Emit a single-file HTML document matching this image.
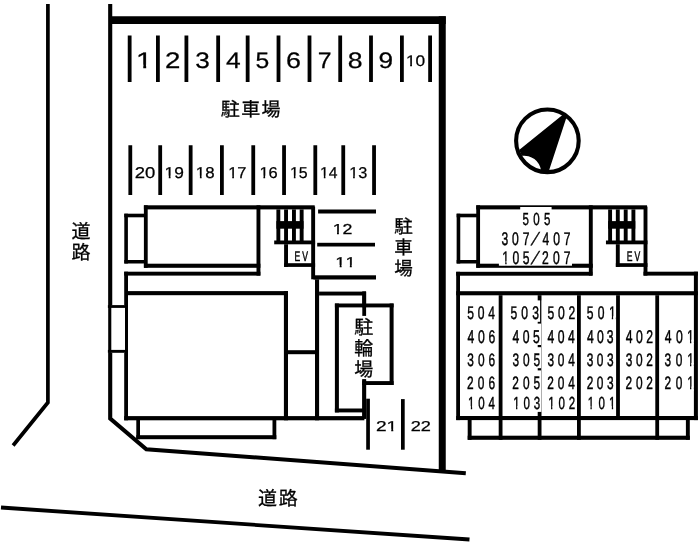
<!DOCTYPE html>
<html lang="ja">
<head>
<meta charset="utf-8">
<title>配置図 駐車場 駐輪場</title>
<style>
html,body{margin:0;padding:0;background:#fff;}
body{width:700px;height:548px;overflow:hidden;font-family:"Liberation Sans",sans-serif;}
svg{display:block;position:absolute;left:0;top:0;will-change:transform;}
text{font-family:"Liberation Sans",sans-serif;fill:#000;text-rendering:geometricPrecision;font-kerning:none;font-variant-ligatures:none;}
text.n{stroke:#000;stroke-width:0.25px;}
text.u{stroke:#000;stroke-width:0.45px;}
text.j{font-family:"Liberation Sans","Noto Sans CJK JP",sans-serif;stroke:#000;stroke-width:0.3px;}
</style>
</head>
<body>
<svg width="700" height="548" viewBox="0 0 700 548" shape-rendering="geometricPrecision">
<rect x="0" y="0" width="700" height="548" fill="#fff"/>
<polyline points="47.90,4.00 47.90,402.50 13.10,445.50" fill="none" stroke="#000" stroke-width="3.70" stroke-linejoin="miter" stroke-linecap="butt"/>
<polyline points="1.00,507.50 469.50,539.50" fill="none" stroke="#000" stroke-width="3.80" stroke-linejoin="miter" stroke-linecap="butt"/>
<polyline points="110.20,4.00 110.20,418.60 146.30,449.20 465.80,473.20" fill="none" stroke="#000" stroke-width="4.10" stroke-linejoin="miter" stroke-linecap="butt"/>
<rect x="110.10" y="16.25" width="335.65" height="7.75"/>
<rect x="438.75" y="16.25" width="7.00" height="455.05"/>
<rect x="127.75" y="35.50" width="3.80" height="46.50"/>
<rect x="156.00" y="35.50" width="3.80" height="46.50"/>
<rect x="184.50" y="35.50" width="3.80" height="46.50"/>
<rect x="216.25" y="35.50" width="3.80" height="46.50"/>
<rect x="245.75" y="35.50" width="3.80" height="46.50"/>
<rect x="276.60" y="35.50" width="3.80" height="46.50"/>
<rect x="307.60" y="35.50" width="3.80" height="46.50"/>
<rect x="338.30" y="35.50" width="3.80" height="46.50"/>
<rect x="369.10" y="35.50" width="3.80" height="46.50"/>
<rect x="400.00" y="35.50" width="3.80" height="46.50"/>
<rect x="428.20" y="35.50" width="3.80" height="46.50"/>
<rect x="128.40" y="145.25" width="3.80" height="49.75"/>
<rect x="158.30" y="145.25" width="3.80" height="49.75"/>
<rect x="188.75" y="145.25" width="3.80" height="49.75"/>
<rect x="220.00" y="145.25" width="3.80" height="49.75"/>
<rect x="251.35" y="145.25" width="3.80" height="49.75"/>
<rect x="282.15" y="145.25" width="3.80" height="49.75"/>
<rect x="313.40" y="145.25" width="3.80" height="49.75"/>
<rect x="341.35" y="145.25" width="3.80" height="49.75"/>
<rect x="372.15" y="145.25" width="3.80" height="49.75"/>
<rect x="318.10" y="209.50" width="57.90" height="4.00"/>
<rect x="317.20" y="242.80" width="57.80" height="3.70"/>
<rect x="313.40" y="275.30" width="62.60" height="4.20"/>
<rect x="366.20" y="398.70" width="3.70" height="51.00"/>
<rect x="401.00" y="399.10" width="3.70" height="50.60"/>
<rect x="124.30" y="213.70" width="21.70" height="3.60"/>
<rect x="124.30" y="260.00" width="21.70" height="3.50"/>
<rect x="124.30" y="213.70" width="3.60" height="49.80"/>
<rect x="143.90" y="205.30" width="170.80" height="4.10"/>
<rect x="143.90" y="205.30" width="3.80" height="62.50"/>
<rect x="143.90" y="263.70" width="116.50" height="4.10"/>
<rect x="256.50" y="205.30" width="3.90" height="70.30"/>
<rect x="311.20" y="206.60" width="3.90" height="72.70"/>
<rect x="276.40" y="209.40" width="3.90" height="31.60"/>
<rect x="284.10" y="209.40" width="3.90" height="31.60"/>
<rect x="292.00" y="209.40" width="3.90" height="31.60"/>
<rect x="299.70" y="209.40" width="3.90" height="31.60"/>
<rect x="276.40" y="221.10" width="27.10" height="7.60"/>
<rect x="274.20" y="240.50" width="40.90" height="3.80"/>
<rect x="284.10" y="244.20" width="3.90" height="22.70"/>
<rect x="284.10" y="263.20" width="31.00" height="3.70"/>
<text class="u" transform="translate(294.49 261.20) scale(0.6200 1)" font-size="13.89" letter-spacing="3.31">EV</text>
<rect x="124.20" y="271.70" width="136.20" height="3.90"/>
<rect x="124.20" y="271.70" width="3.80" height="148.60"/>
<rect x="128.00" y="291.10" width="160.00" height="4.10"/>
<rect x="283.90" y="291.10" width="4.10" height="129.20"/>
<rect x="124.20" y="416.10" width="240.20" height="4.20"/>
<rect x="288.00" y="350.20" width="27.20" height="4.00"/>
<rect x="315.00" y="279.30" width="4.10" height="141.00"/>
<rect x="319.10" y="291.60" width="46.90" height="3.90"/>
<rect x="362.30" y="291.60" width="3.80" height="127.20"/>
<rect x="136.30" y="420.00" width="3.70" height="19.20"/>
<rect x="136.30" y="435.20" width="140.00" height="4.00"/>
<rect x="272.50" y="420.00" width="3.80" height="19.20"/>
<rect x="108.00" y="305.10" width="17.00" height="47.70" fill="#fff"/>
<rect x="107.90" y="305.10" width="17.10" height="2.80"/>
<rect x="107.90" y="349.90" width="17.10" height="2.90"/>
<rect x="108.20" y="305.10" width="3.10" height="47.70"/>
<rect x="338.90" y="307.30" width="50.70" height="72.00" fill="#fff"/>
<rect x="334.90" y="303.50" width="58.70" height="3.90"/>
<rect x="334.90" y="303.50" width="4.00" height="108.90"/>
<rect x="389.60" y="303.50" width="4.00" height="81.50"/>
<rect x="362.30" y="381.10" width="31.30" height="3.90"/>
<rect x="334.90" y="408.50" width="31.20" height="3.90"/>
<rect x="362.30" y="291.60" width="3.80" height="24.30"/>
<rect x="362.30" y="379.30" width="3.80" height="39.50"/>
<rect x="456.65" y="213.70" width="21.70" height="3.60"/>
<rect x="456.65" y="260.00" width="21.70" height="3.50"/>
<rect x="456.65" y="213.70" width="3.60" height="49.80"/>
<rect x="476.25" y="205.30" width="170.80" height="4.10"/>
<rect x="476.25" y="205.30" width="3.80" height="62.50"/>
<rect x="476.25" y="263.70" width="116.50" height="4.10"/>
<rect x="588.85" y="205.30" width="3.90" height="70.30"/>
<rect x="643.55" y="206.60" width="3.90" height="69.00"/>
<rect x="608.15" y="209.40" width="3.90" height="31.60"/>
<rect x="615.85" y="209.40" width="3.90" height="31.60"/>
<rect x="623.75" y="209.40" width="3.90" height="31.60"/>
<rect x="631.45" y="209.40" width="3.90" height="31.60"/>
<rect x="608.15" y="221.10" width="27.10" height="7.60"/>
<rect x="605.95" y="240.50" width="41.50" height="3.80"/>
<rect x="615.85" y="244.20" width="3.90" height="22.70"/>
<rect x="615.85" y="263.20" width="31.60" height="3.70"/>
<text class="u" transform="translate(626.69 261.20) scale(0.6200 1)" font-size="13.89" letter-spacing="3.48">EV</text>
<rect x="456.20" y="271.80" width="136.20" height="3.90"/>
<rect x="643.50" y="271.70" width="54.40" height="3.90"/>
<rect x="456.20" y="271.80" width="3.80" height="148.30"/>
<rect x="693.90" y="271.70" width="4.00" height="148.40"/>
<rect x="456.20" y="291.20" width="241.70" height="4.10"/>
<rect x="456.20" y="416.00" width="241.70" height="4.10"/>
<rect x="498.70" y="295.20" width="3.80" height="120.80"/>
<rect x="537.70" y="295.20" width="3.80" height="120.80"/>
<rect x="577.00" y="295.20" width="3.80" height="120.80"/>
<rect x="616.10" y="295.20" width="3.80" height="120.80"/>
<rect x="655.30" y="295.20" width="3.80" height="120.80"/>
<rect x="467.70" y="420.00" width="3.90" height="19.80"/>
<rect x="685.90" y="420.00" width="3.90" height="19.80"/>
<rect x="467.70" y="435.70" width="222.10" height="4.10"/>
<rect x="498.70" y="420.00" width="3.80" height="19.80"/>
<rect x="537.70" y="420.00" width="3.80" height="19.80"/>
<rect x="577.00" y="420.00" width="3.80" height="19.80"/>
<rect x="655.30" y="420.00" width="3.80" height="19.80"/>
<rect x="520.20" y="207.00" width="31.40" height="19.00" fill="#fff"/>
<rect x="498.90" y="229.00" width="73.10" height="36.70" fill="#fff"/>
<rect x="506.00" y="300.40" width="34.10" height="21.40" fill="#fff"/>
<rect x="506.00" y="323.60" width="35.10" height="21.40" fill="#fff"/>
<rect x="506.00" y="347.20" width="35.10" height="21.00" fill="#fff"/>
<rect x="506.00" y="370.40" width="35.10" height="41.50" fill="#fff"/>
<rect x="541.70" y="300.40" width="34.30" height="111.50" fill="#fff"/>
<text class="n" transform="translate(136.08 67.90) scale(1.3000 1)" font-size="22.49">1</text>
<text class="n" transform="translate(165.11 67.90) scale(1.2301 1)" font-size="22.49">2</text>
<text class="n" transform="translate(195.20 67.90) scale(1.1632 1)" font-size="22.49">3</text>
<text class="n" transform="translate(225.89 67.90) scale(1.1738 1)" font-size="22.49">4</text>
<text class="n" transform="translate(255.61 67.90) scale(1.0975 1)" font-size="22.49">5</text>
<text class="n" transform="translate(286.04 67.90) scale(1.1952 1)" font-size="22.49">6</text>
<text class="n" transform="translate(317.83 67.90) scale(1.1055 1)" font-size="22.49">7</text>
<text class="n" transform="translate(347.74 67.90) scale(1.1847 1)" font-size="22.49">8</text>
<text class="n" transform="translate(378.57 67.90) scale(1.1650 1)" font-size="22.49">9</text>
<text class="n" transform="translate(405.94 66.00) scale(1.1287 1)" font-size="15.32">10</text>
<text class="n" transform="translate(134.77 178.00) scale(1.1728 1)" font-size="15.75">20</text>
<text class="n" transform="translate(164.53 178.00) scale(1.1008 1)" font-size="15.75">19</text>
<text class="n" transform="translate(195.78 178.00) scale(1.0703 1)" font-size="15.75">18</text>
<text class="n" transform="translate(228.22 178.00) scale(1.0450 1)" font-size="15.75">17</text>
<text class="n" transform="translate(259.42 178.00) scale(1.0447 1)" font-size="15.75">16</text>
<text class="n" transform="translate(289.97 178.00) scale(1.0100 1)" font-size="15.75">15</text>
<text class="n" transform="translate(319.99 178.00) scale(0.9970 1)" font-size="15.75">14</text>
<text class="n" transform="translate(349.14 178.00) scale(1.0316 1)" font-size="15.75">13</text>
<text class="n" transform="translate(332.69 233.60) scale(1.2312 1)" font-size="14.46">12</text>
<text class="n" transform="translate(335.24 267.00) scale(1.2746 1)" font-size="14.32">11</text>
<text class="n" transform="translate(375.94 430.90) scale(1.3375 1)" font-size="14.32">21</text>
<text class="n" transform="translate(410.69 430.90) scale(1.2699 1)" font-size="14.32">22</text>
<text class="u" transform="translate(467.22 319.00) scale(0.6600 1)" font-size="18.33" letter-spacing="5.80">504</text>
<text class="u" transform="translate(467.42 342.50) scale(0.6600 1)" font-size="18.47" letter-spacing="5.66">406</text>
<text class="u" transform="translate(467.25 365.60) scale(0.6600 1)" font-size="18.05" letter-spacing="6.14">306</text>
<text class="u" transform="translate(467.10 389.30) scale(0.6600 1)" font-size="18.05" letter-spacing="6.25">206</text>
<text class="u" transform="translate(468.09 408.80) scale(0.6600 1)" font-size="17.47" letter-spacing="5.84">104</text>
<text class="u" transform="translate(510.52 319.00) scale(0.6600 1)" font-size="18.33" letter-spacing="6.23">503</text>
<text class="u" transform="translate(512.52 342.50) scale(0.6600 1)" font-size="18.47" letter-spacing="5.19">405</text>
<text class="u" transform="translate(512.45 365.60) scale(0.6600 1)" font-size="18.05" letter-spacing="5.97">305</text>
<text class="u" transform="translate(512.30 389.30) scale(0.6600 1)" font-size="18.05" letter-spacing="6.08">205</text>
<text class="u" transform="translate(513.29 408.80) scale(0.6600 1)" font-size="17.47" letter-spacing="5.81">103</text>
<text class="u" transform="translate(547.42 319.00) scale(0.6600 1)" font-size="18.33" letter-spacing="5.69">502</text>
<text class="u" transform="translate(547.62 342.50) scale(0.6600 1)" font-size="18.47" letter-spacing="5.22">404</text>
<text class="u" transform="translate(547.45 365.60) scale(0.6600 1)" font-size="18.05" letter-spacing="5.71">304</text>
<text class="u" transform="translate(547.30 389.30) scale(0.6600 1)" font-size="18.05" letter-spacing="5.82">204</text>
<text class="u" transform="translate(548.29 408.80) scale(0.6600 1)" font-size="17.47" letter-spacing="5.72">102</text>
<text class="u" transform="translate(586.82 319.00) scale(0.6600 1)" font-size="18.33" letter-spacing="6.53">501</text>
<text class="u" transform="translate(587.02 342.50) scale(0.6600 1)" font-size="18.47" letter-spacing="4.68">403</text>
<text class="u" transform="translate(586.85 365.60) scale(0.6600 1)" font-size="18.05" letter-spacing="5.16">303</text>
<text class="u" transform="translate(586.70 389.30) scale(0.6600 1)" font-size="18.05" letter-spacing="5.27">203</text>
<text class="u" transform="translate(587.69 408.80) scale(0.6600 1)" font-size="17.47" letter-spacing="6.49">101</text>
<text class="u" transform="translate(625.82 342.50) scale(0.6600 1)" font-size="18.47" letter-spacing="5.19">402</text>
<text class="u" transform="translate(625.65 365.60) scale(0.6600 1)" font-size="18.05" letter-spacing="5.67">302</text>
<text class="u" transform="translate(625.50 389.30) scale(0.6600 1)" font-size="18.05" letter-spacing="5.78">202</text>
<text class="u" transform="translate(664.72 342.50) scale(0.6600 1)" font-size="18.47" letter-spacing="6.65">401</text>
<text class="u" transform="translate(664.55 365.60) scale(0.6600 1)" font-size="18.05" letter-spacing="7.09">301</text>
<text class="u" transform="translate(664.40 389.30) scale(0.6600 1)" font-size="18.05" letter-spacing="7.20">201</text>
<text class="u" transform="translate(522.44 224.50) scale(0.6600 1)" font-size="17.47" letter-spacing="6.60">505</text>
<text class="u" transform="translate(501.44 244.60) scale(0.6600 1)" font-size="18.33" letter-spacing="5.97">307</text>
<text class="u" transform="matrix(0.8000 0 -0.4095 1 530.73 244.62)" font-size="17.97">/</text>
<text class="u" transform="translate(542.42 244.60) scale(0.6600 1)" font-size="18.33" letter-spacing="6.06">407</text>
<text class="u" transform="translate(502.34 263.70) scale(0.6600 1)" font-size="18.33" letter-spacing="5.22">105</text>
<text class="u" transform="matrix(0.8000 0 -0.4095 1 530.73 263.72)" font-size="17.97">/</text>
<text class="u" transform="translate(542.09 263.70) scale(0.6600 1)" font-size="18.33" letter-spacing="6.31">207</text>
<rect x="135.36" y="64.61" width="7.90" height="4.79" fill="#fff"/>
<rect x="146.17" y="64.61" width="5.89" height="4.79" fill="#fff"/>
<rect x="405.51" y="63.76" width="4.63" height="3.74" fill="#fff"/>
<rect x="411.96" y="63.76" width="3.94" height="3.74" fill="#fff"/>
<rect x="164.11" y="175.69" width="4.65" height="3.81" fill="#fff"/>
<rect x="170.56" y="175.69" width="3.95" height="3.81" fill="#fff"/>
<rect x="195.37" y="175.69" width="4.52" height="3.81" fill="#fff"/>
<rect x="201.64" y="175.69" width="3.84" height="3.81" fill="#fff"/>
<rect x="227.81" y="175.69" width="4.41" height="3.81" fill="#fff"/>
<rect x="233.94" y="175.69" width="3.75" height="3.81" fill="#fff"/>
<rect x="259.02" y="175.69" width="4.41" height="3.81" fill="#fff"/>
<rect x="265.14" y="175.69" width="3.75" height="3.81" fill="#fff"/>
<rect x="289.58" y="175.69" width="4.26" height="3.81" fill="#fff"/>
<rect x="295.50" y="175.69" width="3.63" height="3.81" fill="#fff"/>
<rect x="319.61" y="175.69" width="4.21" height="3.81" fill="#fff"/>
<rect x="325.45" y="175.69" width="3.58" height="3.81" fill="#fff"/>
<rect x="348.74" y="175.69" width="4.35" height="3.81" fill="#fff"/>
<rect x="354.79" y="175.69" width="3.70" height="3.81" fill="#fff"/>
<rect x="332.25" y="231.48" width="4.76" height="3.62" fill="#fff"/>
<rect x="338.89" y="231.48" width="4.05" height="3.62" fill="#fff"/>
<rect x="334.80" y="264.90" width="4.88" height="3.60" fill="#fff"/>
<rect x="341.61" y="264.90" width="4.15" height="3.60" fill="#fff"/>
<rect x="344.95" y="264.90" width="4.88" height="3.60" fill="#fff"/>
<rect x="351.76" y="264.90" width="3.62" height="3.60" fill="#fff"/>
<rect x="386.12" y="428.80" width="5.12" height="3.60" fill="#fff"/>
<rect x="393.27" y="428.80" width="3.80" height="3.60" fill="#fff"/>
<rect x="465.88" y="406.24" width="4.96" height="4.06" fill="#fff"/>
<rect x="472.16" y="406.24" width="4.50" height="4.06" fill="#fff"/>
<rect x="511.09" y="406.24" width="4.95" height="4.06" fill="#fff"/>
<rect x="517.36" y="406.24" width="4.49" height="4.06" fill="#fff"/>
<rect x="546.12" y="406.24" width="4.92" height="4.06" fill="#fff"/>
<rect x="552.36" y="406.24" width="4.46" height="4.06" fill="#fff"/>
<rect x="606.44" y="316.31" width="5.34" height="4.19" fill="#fff"/>
<rect x="613.15" y="316.31" width="2.36" height="4.19" fill="#fff"/>
<rect x="585.27" y="406.24" width="5.17" height="4.06" fill="#fff"/>
<rect x="591.76" y="406.24" width="4.71" height="4.06" fill="#fff"/>
<rect x="606.66" y="406.24" width="5.17" height="4.06" fill="#fff"/>
<rect x="613.15" y="406.24" width="2.24" height="4.06" fill="#fff"/>
<rect x="684.57" y="339.79" width="5.41" height="4.21" fill="#fff"/>
<rect x="691.35" y="339.79" width="2.38" height="4.21" fill="#fff"/>
<rect x="684.52" y="362.96" width="5.48" height="4.14" fill="#fff"/>
<rect x="691.35" y="362.96" width="2.32" height="4.14" fill="#fff"/>
<rect x="684.49" y="386.66" width="5.51" height="4.14" fill="#fff"/>
<rect x="691.35" y="386.66" width="2.32" height="4.14" fill="#fff"/>
<rect x="500.32" y="261.01" width="4.91" height="4.19" fill="#fff"/>
<rect x="506.60" y="261.01" width="4.43" height="4.19" fill="#fff"/>
<text class="j" x="220.8 241.2 261.6" y="115.6" font-size="19">駐車場</text>
<text class="j" x="81" y="238.2" font-size="19" text-anchor="middle">道</text>
<text class="j" x="81" y="259" font-size="19" text-anchor="middle">路</text>
<text class="j" x="403.5" y="233.3" font-size="18.5" text-anchor="middle">駐</text>
<text class="j" x="403.5" y="253.8" font-size="18.5" text-anchor="middle">車</text>
<text class="j" x="403.5" y="275.3" font-size="18.5" text-anchor="middle">場</text>
<text class="j" x="363.8" y="333.5" font-size="19" text-anchor="middle">駐</text>
<text class="j" x="363.8" y="355.3" font-size="19" text-anchor="middle">輪</text>
<text class="j" x="363.8" y="375.9" font-size="19" text-anchor="middle">場</text>
<text class="j" x="258 278.8" y="505" font-size="19">道路</text>
<circle cx="547.4" cy="140.8" r="31.3" fill="none" stroke="#000" stroke-width="4.1"/>
<path d="M563.1 114.6 L566.6 116.9 L548.7 171.4 L541.0 170.3 A17 17 0 0 0 521.8 155.8 L519.1 150.1 Z"/>
</svg>
</body>
</html>
